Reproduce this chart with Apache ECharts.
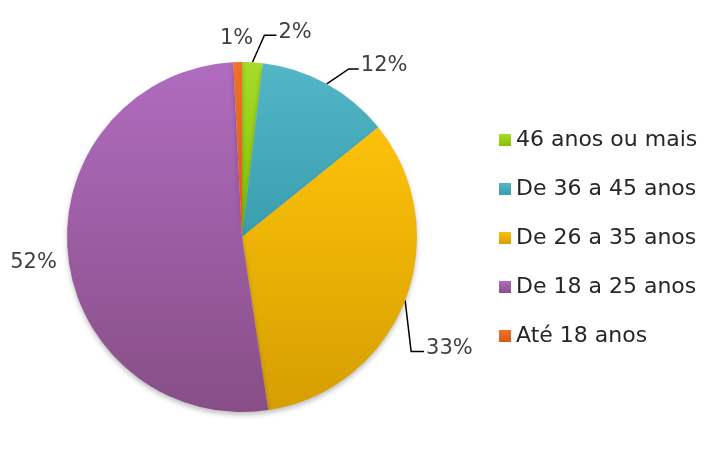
<!DOCTYPE html>
<html>
<head>
<meta charset="utf-8">
<script src="https://cdn.jsdelivr.net/npm/echarts@6/dist/echarts.min.js"></script>
<style>
  html, body { margin: 0; padding: 0; background: #fff; }
  #chart { width: 717px; height: 475px; }
</style>
</head>
<body>
<div id="chart"></div>
<script>
// faixas etárias (ordem da legenda / sentido horário a partir do topo)
const categories = ['46 anos ou mais', 'De 36 a 45 anos', 'De 26 a 35 anos', 'De 18 a 25 anos', 'Até 18 anos']
const values = [1.9, 12.3, 33.4, 51.6, 0.8]

// cores: claro em cima, escuro em baixo
const topColors = ['#a6dc2a', '#52b6c6', '#fcc20a', '#b06cbf', '#f0702a']
const bottomColors = ['#86c000', '#3a9eae', '#d69e00', '#874e86', '#d85a18']

const font = 'DejaVu Sans'

// deslocamento das linhas de chamada (a partir do ponto na borda da fatia)
const leader = {
  0: [[12, -27], [24, -27]],
  1: [[22, -15], [32, -15]],
  2: [[6, 51], [19, 51]]
}
// rótulos sem linha: deslocamento do texto a partir da borda
const freeLabel = {
  3: {dx: -11, dy: 8, align: 'right'},
  4: {dx: -1, dy: -24, align: 'center'}
}

const myChart = echarts.init(document.getElementById('chart'))

const data = categories.map((name, i) => ({
  name,
  value: values[i],
  itemStyle: {
    color: {
      type: 'linear', x: 0, y: 0, x2: 0, y2: 1,
      colorStops: [
        {offset: 0, color: topColors[i]},
        {offset: 1, color: bottomColors[i]}
      ]
    }
  }
}))

myChart.setOption({
  animation: false,
  textStyle: {fontFamily: font},
  legend: {
    orient: 'vertical',
    left: 494,
    top: 124,
    itemWidth: 12,
    itemHeight: 12,
    itemGap: 27,
    icon: 'rect',
    textStyle: {fontFamily: font, fontSize: 22, color: '#262626'},
    data: categories
  },
  series: [{
    type: 'pie',
    center: [242, 237],
    radius: 175,
    startAngle: 90,
    clockwise: true,
    percentPrecision: 0,
    data,
    itemStyle: {
      shadowBlur: 5,
      shadowColor: 'rgba(0,0,0,0.25)',
      shadowOffsetY: 3
    },
    label: {
      show: true,
      position: 'outside',
      formatter: '{d}%',
      fontFamily: font,
      fontSize: 21,
      color: '#404040',
      overflow: 'none'
    },
    labelLine: {
      show: true,
      length: 20,
      length2: 12,
      lineStyle: {color: '#000', width: 1.5}
    },
    labelLayout(params) {
      const i = params.dataIndex
      const pts = params.labelLinePoints
      if (!pts) return {}
      const p0 = pts[0]
      if (leader[i]) {
        const p1 = [p0[0] + leader[i][0][0], p0[1] + leader[i][0][1]]
        const p2 = [p0[0] + leader[i][1][0], p0[1] + leader[i][1][1]]
        return {
          x: p2[0] + 2,
          y: p2[1] - 3,
          align: 'left',
          verticalAlign: 'middle',
          labelLinePoints: [p0, p1, p2]
        }
      }
      const f = freeLabel[i]
      return {
        x: p0[0] + f.dx,
        y: p0[1] + f.dy,
        align: f.align,
        verticalAlign: 'middle',
        labelLinePoints: [p0, p0, p0]
      }
    },
    emphasis: {disabled: true}
  }]
})
</script>
</body>
</html>
